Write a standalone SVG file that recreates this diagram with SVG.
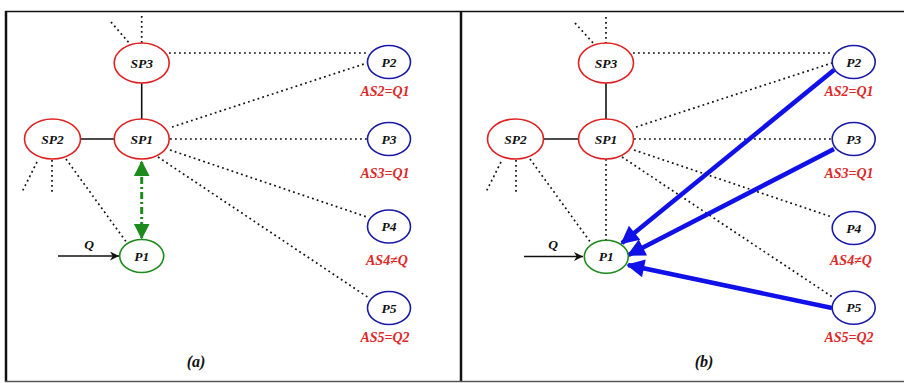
<svg xmlns="http://www.w3.org/2000/svg" width="904" height="383" viewBox="0 0 904 383">
  <style>
    .sp { fill: #fff; stroke: #e02020; stroke-width: 1.6; }
    .pn { fill: #fff; stroke: #1a1aa8; stroke-width: 1.6; }
    .p1 { fill: #fff; stroke: #1e8a1e; stroke-width: 1.6; }
    .lbl { font-family: "Liberation Serif", "Times New Roman", serif; font-weight: bold; font-style: italic; font-size: 13.5px; fill: #111; text-anchor: middle; }
    .as { font-family: "Liberation Serif", "Times New Roman", serif; font-weight: bold; font-style: italic; font-size: 14px; fill: #e02828; text-anchor: middle; }
    .cap { font-family: "Liberation Serif", "Times New Roman", serif; font-weight: bold; font-style: italic; font-size: 16px; fill: #111; text-anchor: middle; }
    .dot { stroke: #111; stroke-width: 1.7; stroke-dasharray: 1.8 3.2; fill: none; }
    .solid { stroke: #111; stroke-width: 1.6; fill: none; }
    .blue { stroke: #1010e8; stroke-width: 4.5; fill: none; }
    .green { stroke: #1e8a1e; stroke-width: 3; stroke-dasharray: 7 3 2 3; fill: none; }
  </style>
  <defs>
    <marker id="blackHead" viewBox="0 0 10 10" refX="10" refY="5" markerWidth="9" markerHeight="9" orient="auto" markerUnits="userSpaceOnUse">
      <path d="M0,0 L10,5 L0,10 L3,5 Z" fill="#111"/>
    </marker>
    <marker id="blueHead" viewBox="0 0 10 10" refX="9" refY="5" markerWidth="22" markerHeight="18" orient="auto" markerUnits="userSpaceOnUse">
      <path d="M0,0 L10,5 L0,10 Z" fill="#1010e8"/>
    </marker>
    <marker id="greenHead" viewBox="0 0 10 10" refX="9" refY="5" markerWidth="16" markerHeight="17" orient="auto-start-reverse" markerUnits="userSpaceOnUse">
      <path d="M0,0 L10,5 L0,10 Z" fill="#1e8a1e"/>
    </marker>
  </defs>

  <rect width="904" height="383" fill="#fff"/>

  <!-- frame -->
  <g id="frame">
    <line x1="5" y1="11.5" x2="904" y2="11.5" stroke="#111" stroke-width="1.6"/>
    <line x1="6" y1="11" x2="6" y2="382" stroke="#111" stroke-width="2.5"/>
    <line x1="461" y1="11" x2="461" y2="382" stroke="#111" stroke-width="2.5"/>
    <line x1="5" y1="381.5" x2="904" y2="381.5" stroke="#555" stroke-width="1.6"/>
  </g>

  <!-- panel (a) connectors -->
  <g id="connectors-a">
    <line class="dot" x1="141.7" y1="16" x2="141.7" y2="43"/>
    <line class="dot" x1="111" y1="22" x2="130" y2="44"/>
    <line class="dot" x1="169" y1="53" x2="367" y2="53"/>
    <line class="dot" x1="172" y1="127" x2="367" y2="63"/>
    <line class="dot" x1="170" y1="139" x2="367" y2="139"/>
    <line class="dot" x1="170" y1="150" x2="367" y2="217"/>
    <line class="dot" x1="158" y1="157" x2="369" y2="298"/>
    <line class="dot" x1="37" y1="162" x2="22" y2="192"/>
    <line class="dot" x1="52" y1="160" x2="52" y2="192"/>
    <line class="dot" x1="66" y1="159" x2="127" y2="243"/>
    <line class="solid" x1="141.7" y1="83" x2="141.7" y2="119"/>
    <line class="solid" x1="80.5" y1="139" x2="114" y2="139"/>
    <line class="solid" x1="58" y1="256" x2="119" y2="256" marker-end="url(#blackHead)"/>
    <line class="green" x1="141.7" y1="162" x2="141.7" y2="238" marker-start="url(#greenHead)" marker-end="url(#greenHead)"/>
  </g>

  <!-- panel (a) nodes -->
  <g id="a-SP3"><ellipse class="sp" cx="141.7" cy="63" rx="27.5" ry="20"/><text class="lbl" x="141.7" y="67.5">SP3</text></g>
  <g id="a-SP1"><ellipse class="sp" cx="141.7" cy="139" rx="27.5" ry="20"/><text class="lbl" x="141.7" y="143.5">SP1</text></g>
  <g id="a-SP2"><ellipse class="sp" cx="52.5" cy="139" rx="28" ry="20"/><text class="lbl" x="52.5" y="143.5">SP2</text></g>
  <g id="a-P2"><ellipse class="pn" cx="389" cy="62" rx="21.5" ry="16.5"/><text class="lbl" x="389" y="66.5">P2</text><text class="as" x="385" y="95.5">AS2=Q1</text></g>
  <g id="a-P3"><ellipse class="pn" cx="389" cy="139" rx="21.5" ry="16.5"/><text class="lbl" x="389" y="143.5">P3</text><text class="as" x="385" y="178">AS3=Q1</text></g>
  <g id="a-P4"><ellipse class="pn" cx="389" cy="226.5" rx="21.5" ry="16.5"/><text class="lbl" x="389" y="231">P4</text><text class="as" x="387" y="265">AS4≠Q</text></g>
  <g id="a-P5"><ellipse class="pn" cx="389" cy="308" rx="21.5" ry="16.5"/><text class="lbl" x="389" y="312.5">P5</text><text class="as" x="385" y="341.5">AS5=Q2</text></g>
  <g id="a-P1"><ellipse class="p1" cx="141.7" cy="256" rx="22" ry="16.5"/><text class="lbl" x="141.7" y="260.5">P1</text></g>
  <text class="lbl" x="89" y="249">Q</text>
  <text class="cap" x="196" y="367">(a)</text>

  <!-- panel (b) connectors -->
  <g id="connectors-b">
    <line class="dot" x1="606" y1="17" x2="606" y2="43"/>
    <line class="dot" x1="575" y1="23" x2="594" y2="44"/>
    <line class="dot" x1="633" y1="53" x2="832" y2="53"/>
    <line class="dot" x1="636" y1="127" x2="832" y2="63"/>
    <line class="dot" x1="634" y1="139" x2="832" y2="139"/>
    <line class="dot" x1="634" y1="150" x2="832" y2="217"/>
    <line class="dot" x1="622" y1="157" x2="834" y2="298"/>
    <line class="dot" x1="606" y1="159" x2="606" y2="240"/>
    <line class="dot" x1="501" y1="162" x2="486" y2="192"/>
    <line class="dot" x1="516" y1="160" x2="516" y2="192"/>
    <line class="dot" x1="530" y1="159" x2="591" y2="243"/>
    <line class="solid" x1="606" y1="83" x2="606" y2="119"/>
    <line class="solid" x1="543.5" y1="139" x2="578.5" y2="139"/>
    <line class="solid" x1="524" y1="256.5" x2="583" y2="256.5" marker-end="url(#blackHead)"/>
    <line class="blue" x1="834" y1="70" x2="622" y2="243" marker-end="url(#blueHead)"/>
    <line class="blue" x1="834" y1="149" x2="628.5" y2="255" marker-end="url(#blueHead)"/>
    <line class="blue" x1="832" y1="308" x2="628" y2="265" marker-end="url(#blueHead)"/>
  </g>

  <!-- panel (b) nodes -->
  <g id="b-SP3"><ellipse class="sp" cx="606" cy="63" rx="27.5" ry="20"/><text class="lbl" x="606" y="67.5">SP3</text></g>
  <g id="b-SP1"><ellipse class="sp" cx="606" cy="139" rx="27.5" ry="20"/><text class="lbl" x="606" y="143.5">SP1</text></g>
  <g id="b-SP2"><ellipse class="sp" cx="515.5" cy="139" rx="28" ry="20"/><text class="lbl" x="515.5" y="143.5">SP2</text></g>
  <g id="b-P2"><ellipse class="pn" cx="853.7" cy="62" rx="21.5" ry="16.5"/><text class="lbl" x="853.7" y="66.5">P2</text><text class="as" x="849" y="95.5">AS2=Q1</text></g>
  <g id="b-P3"><ellipse class="pn" cx="853.7" cy="139" rx="21.5" ry="16.5"/><text class="lbl" x="853.7" y="143.5">P3</text><text class="as" x="849" y="178">AS3=Q1</text></g>
  <g id="b-P4"><ellipse class="pn" cx="853.7" cy="228" rx="21.5" ry="16.5"/><text class="lbl" x="853.7" y="232.5">P4</text><text class="as" x="851" y="265">AS4≠Q</text></g>
  <g id="b-P5"><ellipse class="pn" cx="853.7" cy="307.7" rx="21.5" ry="16.5"/><text class="lbl" x="853.7" y="312">P5</text><text class="as" x="849" y="341.5">AS5=Q2</text></g>
  <g id="b-P1"><ellipse class="p1" cx="606.3" cy="256.7" rx="22" ry="16.5"/><text class="lbl" x="606.3" y="261">P1</text></g>
  <text class="lbl" x="553" y="249">Q</text>
  <text class="cap" x="704" y="367">(b)</text>
</svg>
